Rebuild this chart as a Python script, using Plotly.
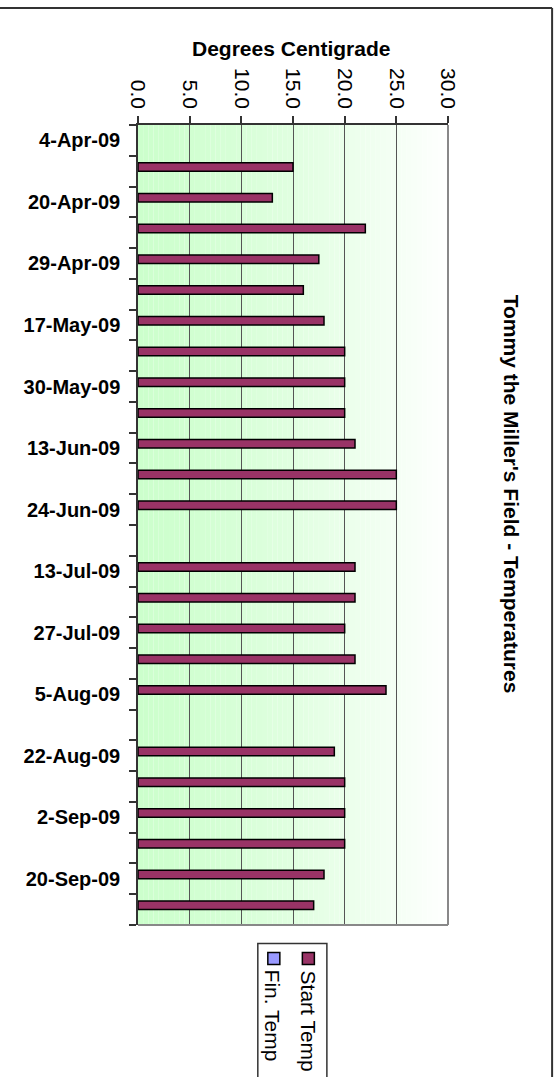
import plotly.graph_objects as go

# Sampling dates (every second one is labelled on the axis)
dates = ["4-Apr-09", "11-Apr-09", "20-Apr-09", "25-Apr-09", "29-Apr-09",
         "9-May-09", "17-May-09", "23-May-09", "30-May-09", "6-Jun-09",
         "13-Jun-09", "20-Jun-09", "24-Jun-09", "4-Jul-09", "13-Jul-09",
         "20-Jul-09", "27-Jul-09", "1-Aug-09", "5-Aug-09", "15-Aug-09",
         "22-Aug-09", "26-Aug-09", "2-Sep-09", "12-Sep-09", "20-Sep-09",
         "27-Sep-09"]
start_temp = [None, 15, 13, 22, 17.5, 16, 18, 20, 20, 20, 21, 25, 25, None,
              21, 21, 20, 21, 24, None, 19, 20, 20, 20, 18, 17]
fin_temp = [None] * len(dates)
value_ticks = [0, 5, 10, 15, 20, 25, 30]

W, H = 558, 1077
L, R, T, B = 138.3, 448.0, 125.0, 925.5
FONT = "Liberation Sans, Arial, sans-serif"


def px(x):
    return (x - L) / (R - L)


def py(y):
    return (B - y) / (B - T)


fig = go.Figure()
fig.add_trace(go.Bar(
    name="Start Temp", y=dates, x=start_temp, orientation="h",
    width=0.276, offset=-0.276,
    marker=dict(color="#993366", line=dict(color="#000000", width=1.5)),
    showlegend=False,
))
fig.add_trace(go.Bar(
    name="Fin. Temp", y=dates, x=fin_temp, orientation="h",
    width=0.276, offset=0,
    marker=dict(color="#9999ff", line=dict(color="#000000", width=1.5)),
    showlegend=False,
))

shapes = []
# horizontal green-to-white fill behind the bars
n = 60
for i in range(n):
    t = (i + 0.5) / n
    k = t ** 1.3
    r = int(round(204 + (255 - 204) * k))
    shapes.append(dict(type="rect", xref="x", yref="paper",
                       x0=30 * i / n, x1=30 * (i + 1) / n, y0=0, y1=1,
                       fillcolor=f"rgb({r},255,{r})", line=dict(width=0),
                       layer="below"))
# right and bottom frame of the plot area
shapes.append(dict(type="line", xref="paper", yref="paper", x0=1, x1=1,
                   y0=0, y1=1, line=dict(color="#888888", width=2)))
shapes.append(dict(type="line", xref="paper", yref="paper", x0=0, x1=1,
                   y0=0, y1=0, line=dict(color="#888888", width=2)))
# outer chart border (top and right)
shapes.append(dict(type="line", xref="paper", yref="paper", x0=px(0),
                   x1=px(552), y0=py(8), y1=py(8),
                   line=dict(color="#333333", width=2)))
shapes.append(dict(type="line", xref="paper", yref="paper", x0=px(552),
                   x1=px(552), y0=py(8), y1=py(1085),
                   line=dict(color="#333333", width=2)))
# legend box and swatches
shapes.append(dict(type="rect", xref="paper", yref="paper", x0=px(258),
                   x1=px(327), y0=py(944), y1=py(1090),
                   fillcolor="#ffffff", line=dict(color="#333333", width=1.5)))
shapes.append(dict(type="rect", xref="paper", yref="paper", x0=px(302.5),
                   x1=px(314.5), y0=py(953), y1=py(965),
                   fillcolor="#993366", line=dict(color="#000000", width=1.5)))
shapes.append(dict(type="rect", xref="paper", yref="paper", x0=px(268),
                   x1=px(280), y0=py(953), y1=py(965),
                   fillcolor="#9999ff", line=dict(color="#000000", width=1.5)))

annotations = [
    dict(text="<b>Degrees Centigrade</b>", xref="paper", yref="paper",
         x=px(291), y=py(48), xanchor="center", yanchor="middle",
         showarrow=False, font=dict(family=FONT, size=21, color="#000")),
    dict(text="<b>Tommy the Miller's Field - Temperatures</b>",
         xref="paper", yref="paper", x=px(511), y=py(494), textangle=90,
         xanchor="center", yanchor="middle", showarrow=False,
         font=dict(family=FONT, size=21, color="#000")),
    dict(text="Start Temp", xref="paper", yref="paper", x=px(309),
         y=py(1022), textangle=90, xanchor="center", yanchor="middle",
         showarrow=False, font=dict(family=FONT, size=21, color="#000")),
    dict(text="Fin. Temp", xref="paper", yref="paper", x=px(273),
         y=py(1016), textangle=90, xanchor="center", yanchor="middle",
         showarrow=False, font=dict(family=FONT, size=21, color="#000")),
]

fig.update_layout(
    width=W, height=H,
    margin=dict(l=L, r=W - R, t=T, b=H - B, pad=0),
    paper_bgcolor="#ffffff", plot_bgcolor="#ffffff",
    barmode="group",
    showlegend=False,
    shapes=shapes, annotations=annotations,
    font=dict(family=FONT, color="#000"),
    xaxis=dict(side="top", range=[0, 30], tickvals=value_ticks,
               tickformat=".1f", tickangle=90, ticks="outside", ticklen=7,
               tickcolor="#333333", tickwidth=1.5, showgrid=True,
               gridcolor="#555555", gridwidth=1, zeroline=False,
               showline=True, linecolor="#333333", linewidth=1.5,
               tickfont=dict(family=FONT, size=21, color="#000")),
    yaxis=dict(type="category", range=[len(dates) - 0.5, -0.5],
               tickvals=dates,
               ticktext=[f"<b>{d}</b>" if i % 2 == 0 else ""
                         for i, d in enumerate(dates)],
               tickson="boundaries", ticks="outside", ticklen=7,
               tickcolor="#333333", tickwidth=1.5, showgrid=False,
               zeroline=False, showline=True, linecolor="#333333",
               linewidth=1.5, ticklabelstandoff=12,
               tickfont=dict(family=FONT, size=20, color="#000")),
)

fig.write_html("out.html")
